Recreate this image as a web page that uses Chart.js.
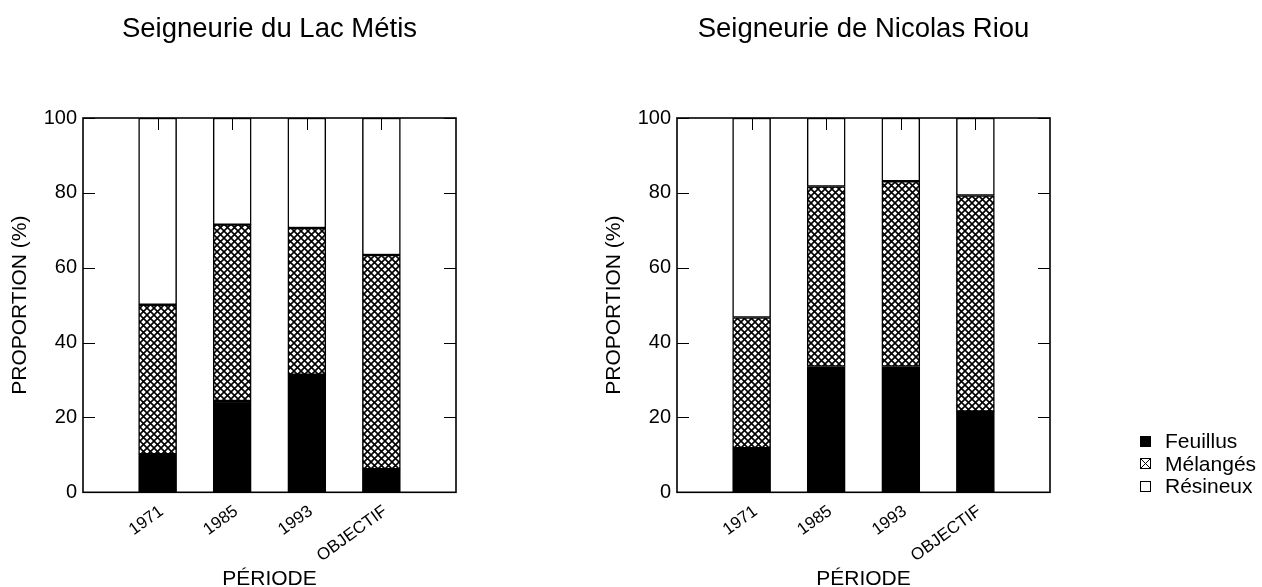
<!DOCTYPE html>
<html>
<head>
<meta charset="utf-8">
<script src="https://cdn.jsdelivr.net/npm/chart.js@4.4.1/dist/chart.umd.min.js"></script>
<style>
  body { margin: 0; background: #fff; width: 1262px; height: 587px; overflow: hidden; position: relative; font-family: 'Liberation Sans', Arial, sans-serif; }
  .box { position: absolute; top: 0; width: 539px; height: 587px; }
  #legend { position: absolute; left: 1140px; top: 430px; font-size: 21px; color: #000; }
  .row { display: flex; align-items: center; height: 22.5px; line-height: 22.5px; white-space: nowrap; }
  .row canvas { margin-right: 14px; }
</style>
</head>
<body>
<div class="box" style="left:0"><canvas id="chartMetis"></canvas></div>
<div class="box" style="left:594px"><canvas id="chartRiou"></canvas></div>
<div id="legend"></div>
<script>
const FONT = "'Liberation Sans', Arial, sans-serif";

const periodes = ['1971', '1985', '1993', 'OBJECTIF'];
const typesForet = ['Feuillus', 'Mélangés', 'Résineux'];

// Seigneurie du Lac Métis (%)
const metisFeuillus = [10.2, 24.4, 31.4, 6.2];
const metisMelanges = [39.9, 47.1, 39.2, 57.2];
const metisResineux = [49.9, 28.5, 29.4, 36.6];

// Seigneurie de Nicolas Riou (%)
const riouFeuillus = [11.8, 33.6, 33.6, 21.6];
const riouMelanges = [34.9, 48.1, 49.5, 57.7];
const riouResineux = [53.3, 18.3, 16.9, 20.7];

Chart.defaults.font.family = FONT;
Chart.defaults.color = '#000';

// crosshatch used for the "Mélangés" segments
const hatch = (ctx) => {
  const c = document.createElement('canvas');
  c.width = 7; c.height = 7;
  const g = c.getContext('2d');
  g.fillStyle = '#fff';
  g.fillRect(0, 0, 7, 7);
  g.strokeStyle = '#000';
  g.lineWidth = 1.6;
  g.beginPath();
  g.moveTo(-1, -1); g.lineTo(8, 8);
  g.moveTo(8, -1); g.lineTo(-1, 8);
  g.stroke();
  return ctx.createPattern(c, 'repeat');
};

// box around the plot with inward tick marks
const cadre = {
  id: 'cadre',
  afterDatasetsDraw(chart) {
    const { ctx, chartArea: a, scales: { x, y } } = chart;
    ctx.save();
    ctx.strokeStyle = '#000';
    ctx.lineWidth = 1;
    ctx.beginPath();
    y.ticks.forEach(t => {
      const py = Math.round(y.getPixelForValue(t.value)) + 0.5;
      ctx.moveTo(a.left, py); ctx.lineTo(a.left + 12, py);
      ctx.moveTo(a.right, py); ctx.lineTo(a.right - 12, py);
    });
    periodes.forEach((p, i) => {
      const px = Math.round(x.getPixelForValue(i + 1)) + 0.5;
      ctx.moveTo(px, a.top); ctx.lineTo(px, a.top + 12);
    });
    ctx.stroke();
    ctx.lineWidth = 1.6;
    ctx.strokeRect(a.left, a.top, a.right - a.left, a.bottom - a.top);
    ctx.restore();
  }
};

const pad = arr => [null, ...arr, null];

function drawChart(id, titre, feuillus, melanges, resineux) {
  const canvas = document.getElementById(id);
  const ctx = canvas.getContext('2d');
  const fills = ['#000', hatch(ctx), '#fff'];
  const series = [feuillus, melanges, resineux];

  return new Chart(canvas, {
    type: 'bar',
    data: {
      labels: ['', ...periodes, ''],
      datasets: typesForet.map((nom, i) => ({
        label: nom,
        data: pad(series[i]),
        backgroundColor: fills[i],
        borderColor: '#000',
        borderWidth: 1.5,
        borderSkipped: false,
        barThickness: 38
      }))
    },
    options: {
      responsive: true,
      maintainAspectRatio: false,
      animation: false,
      layout: { padding: { left: 0, right: 83, top: 0, bottom: 0 } },
      plugins: {
        legend: { display: false },
        tooltip: { enabled: false },
        title: {
          display: true,
          text: titre,
          fullSize: false,
          color: '#000',
          font: { size: 27.5, weight: 'normal', lineHeight: 1.2 },
          padding: { top: 12.5, bottom: 72.5 }
        }
      },
      scales: {
        x: {
          stacked: true,
          offset: false,
          grid: { display: false, drawTicks: false },
          border: { display: false },
          ticks: { autoSkip: false, minRotation: 36, maxRotation: 36, padding: 9, labelOffset: 4, font: { size: 17 } },
          title: { display: true, text: 'PÉRIODE', font: { size: 21, lineHeight: 0.714 }, padding: 0 },
          afterFit: s => { s.height = 94.7; }
        },
        y: {
          stacked: true,
          min: 0,
          max: 100,
          grid: { display: false, drawTicks: false },
          border: { display: false },
          ticks: { stepSize: 20, padding: 6, font: { size: 20 } },
          title: { display: true, text: 'PROPORTION (%)', font: { size: 21 }, padding: { top: 7.4, bottom: 0 } },
          afterFit: s => { s.width = 83; }
        }
      }
    },
    plugins: [cadre]
  });
}

drawChart('chartMetis', 'Seigneurie du Lac Métis', metisFeuillus, metisMelanges, metisResineux);
drawChart('chartRiou', 'Seigneurie de Nicolas Riou', riouFeuillus, riouMelanges, riouResineux);

// legend (shared by both charts)
const legend = document.getElementById('legend');
typesForet.forEach((nom, i) => {
  const row = document.createElement('div');
  row.className = 'row';
  const m = document.createElement('canvas');
  m.width = 11; m.height = 11;
  const g = m.getContext('2d');
  g.strokeStyle = '#000';
  g.lineWidth = 1;
  if (i === 0) {
    g.fillStyle = '#000';
    g.fillRect(0, 0, 11, 11);
  } else {
    g.strokeRect(0.5, 0.5, 10, 10);
    if (i === 1) {
      g.beginPath();
      g.moveTo(1, 1); g.lineTo(10, 10);
      g.moveTo(10, 1); g.lineTo(1, 10);
      g.stroke();
    }
  }
  row.appendChild(m);
  const t = document.createElement('span');
  t.textContent = nom;
  row.appendChild(t);
  legend.appendChild(row);
});
</script>
</body>
</html>
